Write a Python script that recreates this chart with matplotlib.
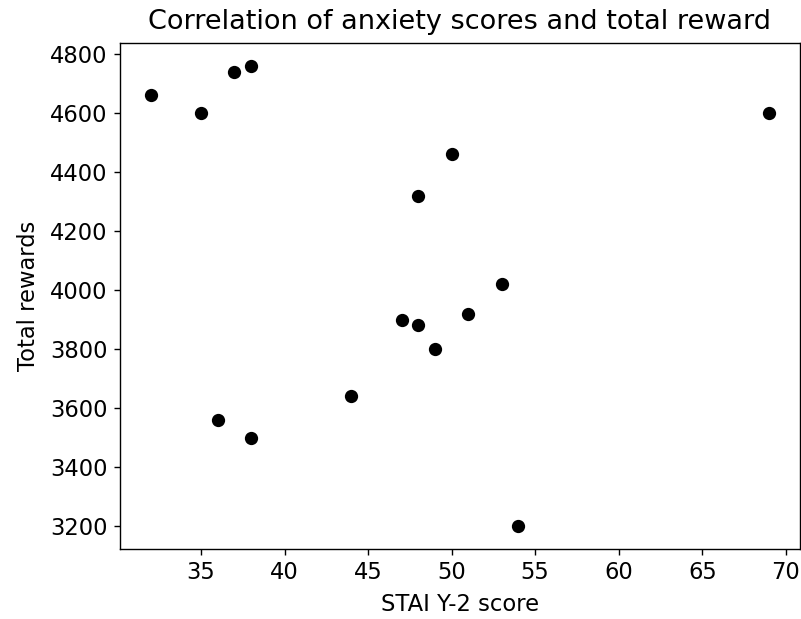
import matplotlib
matplotlib.use("Agg")
import matplotlib.pyplot as plt

# STAI Y-2 scores and total rewards per participant
stai_scores = [32, 35, 37, 38, 69, 50, 48, 53, 51, 47, 48, 49, 44, 36, 38, 54]
total_rewards = [4660, 4600, 4740, 4760, 4600, 4460, 4320, 4020, 3920, 3900,
                 3880, 3800, 3640, 3560, 3500, 3200]

plt.rcParams["font.size"] = 13

fig = plt.figure(figsize=(801 / 125, 619 / 125), dpi=125)
ax = fig.add_subplot(111)
fig.subplots_adjust(left=120 / 801, right=800 / 801, top=1 - 43 / 619, bottom=1 - 549 / 619)

ax.scatter(stai_scores, total_rewards, color="black", s=44)

ax.set_xlabel("STAI Y-2 score", labelpad=5)
ax.set_ylabel("Total rewards", labelpad=6)
ax.set_title("Correlation of anxiety scores and total reward", fontsize=15.6, pad=8)

fig.savefig("out.png", dpi=125)
